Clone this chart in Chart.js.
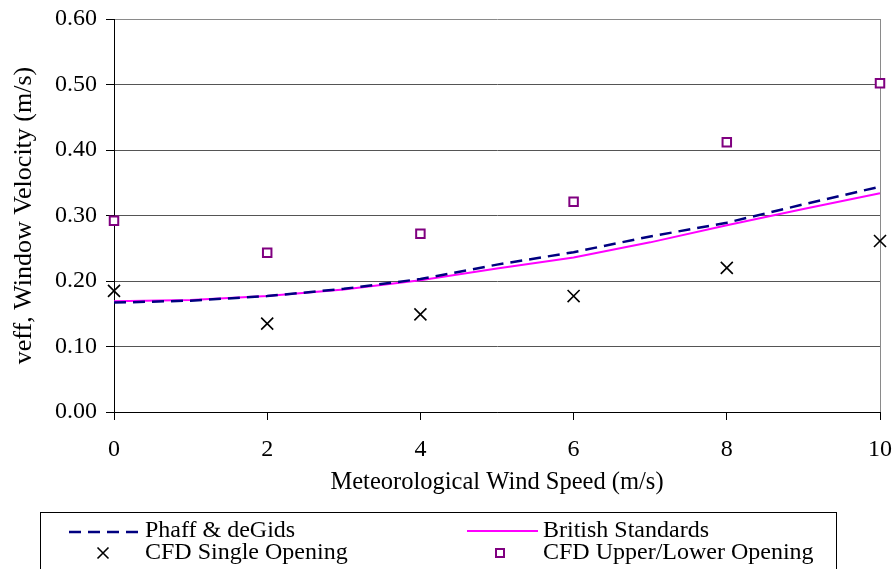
<!DOCTYPE html>
<html>
<head>
<meta charset="utf-8">
<script src="https://cdn.jsdelivr.net/npm/chart.js@4"></script>
<style>
html,body{margin:0;padding:0;background:#fff;}
#c{display:block;}
</style>
</head>
<body>
<canvas id="c" width="895" height="569"></canvas>
<script>
// ---- data ----
const windSpeeds = [0, 1, 2, 3, 4, 5, 6, 7, 8, 9, 10];
const phaffDeGids = [0.167, 0.170, 0.177, 0.188, 0.203, 0.225, 0.244, 0.268, 0.289, 0.317, 0.344];
const britishStandards = [0.169, 0.171, 0.177, 0.187, 0.201, 0.219, 0.236, 0.259, 0.285, 0.310, 0.334];
const cfdSpeeds = [0, 2, 4, 6, 8, 10];
const cfdSingle = [0.185, 0.135, 0.149, 0.177, 0.220, 0.261];
const cfdUpperLower = [0.292, 0.243, 0.272, 0.321, 0.412, 0.502];
const seriesNames = ['Phaff & deGids', 'British Standards', 'CFD Single Opening', 'CFD Upper/Lower Opening'];
const xTitle = 'Meteorological Wind Speed (m/s)';
const yTitle = 'veff, Window Velocity (m/s)';

const FONT = 'Liberation Serif';
const toXY = (xs, ys) => xs.map((x, i) => ({x: x, y: ys[i]}));

const legendPlugin = {
  id: 'boxLegend',
  afterDraw(chart) {
    const ctx = chart.ctx;
    const ds = chart.data.datasets;
    ctx.save();
    ctx.strokeStyle = '#000';
    ctx.lineWidth = 1;
    ctx.strokeRect(40.5, 512.5, 796, 80);
    ctx.font = '24px "' + FONT + '"';
    ctx.fillStyle = '#000';
    ctx.textBaseline = 'alphabetic';
    ctx.textAlign = 'left';
    // row 1 : lines
    const rows = [
      {i: 0, sx: 69, ex: 138, y: 532, tx: 145, ty: 537},
      {i: 1, sx: 467, ex: 538, y: 531, tx: 543, ty: 537}
    ];
    rows.forEach(r => {
      const d = ds[r.i];
      ctx.save();
      ctx.strokeStyle = d.borderColor;
      ctx.lineWidth = d.borderWidth;
      ctx.setLineDash(d.borderDash || []);
      ctx.beginPath();
      ctx.moveTo(r.sx, r.y);
      ctx.lineTo(r.ex, r.y);
      ctx.stroke();
      ctx.restore();
      ctx.fillText(d.label, r.tx, r.ty);
    });
    // row 2 : markers
    const d2 = ds[2];
    ctx.save();
    ctx.strokeStyle = d2.borderColor;
    ctx.lineWidth = d2.borderWidth;
    const h = 5.5;
    ctx.beginPath();
    ctx.moveTo(103 - h, 553 - h); ctx.lineTo(103 + h, 553 + h);
    ctx.moveTo(103 + h, 553 - h); ctx.lineTo(103 - h, 553 + h);
    ctx.stroke();
    ctx.restore();
    ctx.fillText(d2.label, 145, 559);
    const d3 = ds[3];
    ctx.save();
    ctx.strokeStyle = d3.borderColor;
    ctx.lineWidth = d3.borderWidth;
    ctx.fillStyle = '#fff';
    ctx.fillRect(496, 549, 8, 8);
    ctx.strokeRect(496, 549, 8, 8);
    ctx.restore();
    ctx.fillText(d3.label, 543, 559);
    ctx.restore();
  }
};

new Chart(document.getElementById('c'), {
  type: 'scatter',
  data: {
    datasets: [
      {
        label: seriesNames[0],
        data: toXY(windSpeeds, phaffDeGids),
        showLine: true,
        borderColor: '#000080',
        borderWidth: 2.5,
        borderDash: [12, 7],
        pointRadius: 0,
        tension: 0,
        fill: false,
        clip: false
      },
      {
        label: seriesNames[1],
        data: toXY(windSpeeds, britishStandards),
        showLine: true,
        borderColor: '#FF00FF',
        borderWidth: 2,
        pointRadius: 0,
        tension: 0,
        fill: false,
        clip: false
      },
      {
        label: seriesNames[2],
        data: toXY(cfdSpeeds, cfdSingle),
        showLine: false,
        pointStyle: 'crossRot',
        pointRadius: 8.5,
        borderColor: '#000',
        borderWidth: 1.6,
        backgroundColor: '#000',
        clip: false
      },
      {
        label: seriesNames[3],
        data: toXY(cfdSpeeds, cfdUpperLower),
        showLine: false,
        pointStyle: 'rect',
        pointRadius: 6,
        borderColor: '#800080',
        borderWidth: 2,
        backgroundColor: '#fff',
        clip: false
      }
    ]
  },
  options: {
    responsive: false,
    animation: false,
    events: [],
    layout: {padding: {left: 0, right: 15, top: 19, bottom: 67}},
    plugins: {
      legend: {display: false},
      tooltip: {enabled: false},
      title: {display: false}
    },
    scales: {
      x: {
        type: 'linear',
        min: 0, max: 10,
        afterFit(scale) { scale.height = 90; scale.paddingRight = 0; scale.paddingLeft = 0; },
        ticks: {
          stepSize: 2,
          color: '#000',
          padding: 15,
          maxRotation: 0,
          font: {family: FONT, size: 24}
        },
        grid: {
          drawOnChartArea: true,
          color: c => (c.tick && c.tick.value === 10) ? '#8a8a8a' : 'rgba(0,0,0,0)',
          tickColor: '#000',
          tickLength: 8,
          lineWidth: 1
        },
        border: {display: true, color: '#000', width: 1},
        title: {
          display: true,
          text: xTitle,
          color: '#000',
          font: {family: FONT, size: 24.5},
          padding: {top: 0, bottom: 5}
        }
      },
      y: {
        type: 'linear',
        min: 0, max: 0.6,
        afterFit(scale) { scale.width = 114; scale.paddingTop = 0; scale.paddingBottom = 0; },
        ticks: {
          stepSize: 0.1,
          color: '#000',
          padding: 9,
          font: {family: FONT, size: 24},
          callback: v => Number(v).toFixed(2)
        },
        grid: {
          color: c => (c.tick && Math.abs(c.tick.value - 0.6) < 1e-9) ? '#8a8a8a' : '#555',
          tickColor: '#000',
          tickLength: 8,
          lineWidth: 1
        },
        border: {display: true, color: '#000', width: 1},
        title: {
          display: true,
          text: yTitle,
          color: '#000',
          font: {family: FONT, size: 26},
          padding: {top: 9, bottom: 0}
        }
      }
    }
  },
  plugins: [legendPlugin]
});
</script>
</body>
</html>
